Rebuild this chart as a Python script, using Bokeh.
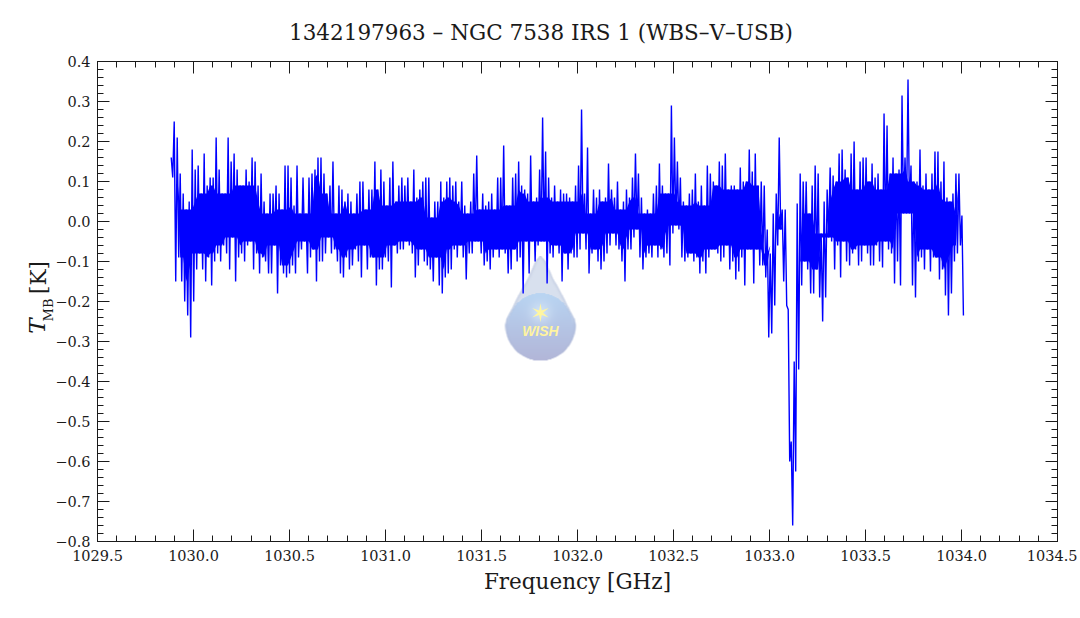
import numpy as np
from bokeh.embed import file_html
from bokeh.models import CustomJSTickFormatter, Label, LinearAxis, Range1d, SingleIntervalTicker
from bokeh.plotting import figure
from bokeh.resources import INLINE

TITLE = "1342197963 – NGC 7538 IRS 1 (WBS–V–USB)"
FREQ_FIRST = 1029.884
FREQ_LAST = 1034.01

# Upper and lower excursion of the spectrum (K)
t_mb_upper = [
 .16,.25,.21,.12,.07,.03,.05,.18,.13,.14,.07,.17,.09,.11,.11,.21,.13,.07,.07,.21,
 .15,.17,.13,.09,.09,.13,.10,.16,.15,.09,.12,.05,.02,.07,.07,.09,.07,.03,.14,.14,
 .11,.04,.14,.02,.11,.02,.11,.12,.13,.16,.16,.12,.07,.09,.15,.02,.09,.08,.05,.07,
 .05,.02,.07,.10,.10,.03,.08,.08,.15,.08,.13,.10,.04,.11,.15,.05,.09,.11,.09,.11,
 .05,.13,.06,.08,.10,.11,.11,.01,.05,.05,
 .10,.06,.10,.11,.09,.10,.05,.10,.04,.02,.05,.12,.165,.03,.07,.04,.05,.07,.03,.11,
 .11,.19,.04,.04,.11,.12,.15,.09,.08,.07,.165,.05,.06,.13,.26,.175,.11,.06,.09,.05,
 .08,.07,.07,.06,.05,.09,.14,.28,.07,.185,.02,.08,.06,.08,.05,.06,.145,.08,.06,.10,
 .03,.05,.08,.06,.11,.17,.12,.06,.02,.03,.02,.07,.09,.145,.09,.07,.07,.29,.21,.15,
 .11,.05,.04,.07,.08,.12,.05,.09,.04,.14,.12,.10,.09,.15,
 .14,.17,.08,.09,.09,.08,.135,.10,.10,.18,.125,.17,.09,.10,.09,-.02,-.08,.02,.07,.21,
 .03,.03,-.22,-.55,-.35,.045,.12,.10,.10,.02,.09,.14,.12,-.03,.05,.08,.135,.115,.10,.17,
 .18,.13,.11,.17,.20,.08,.15,.16,.16,.10,.145,.11,.12,.08,.27,.24,.12,.16,.12,.13,
 .315,.16,.355,.14,.10,.10,.18,.09,.12,.08,.12,.175,.175,.10,.15,.06,.05,.07,.12,.12,.015,
]
t_mb_lower = [
 .11,-.15,-.09,-.15,-.20,-.235,-.29,-.20,-.12,-.08,-.12,-.15,-.09,-.16,-.10,-.08,-.10,-.06,-.08,-.12,
 -.04,-.15,-.09,-.08,-.10,-.06,-.05,-.12,-.08,-.13,-.09,-.10,-.13,-.13,-.06,-.18,-.11,-.13,-.14,-.13,
 -.11,-.13,-.09,-.07,-.05,-.13,-.09,-.07,-.15,-.10,-.10,-.08,-.04,-.08,-.07,-.10,-.13,-.14,-.09,-.12,
 -.11,-.07,-.10,-.14,-.06,-.12,-.09,-.09,-.16,-.12,-.12,-.09,-.10,-.165,-.06,-.08,-.07,-.07,-.05,-.06,
 -.08,-.14,-.11,-.07,-.10,-.11,-.12,-.15,-.09,-.16,
 -.18,-.14,-.13,-.12,-.07,-.09,-.06,-.09,-.145,-.08,-.08,-.05,-.05,-.08,-.11,-.10,-.12,-.09,-.07,-.09,
 -.07,-.08,-.13,-.12,-.07,-.10,-.09,-.18,-.05,-.13,-.05,-.10,-.06,-.05,-.05,-.155,-.08,-.09,-.06,-.08,
 -.15,-.08,-.12,-.08,-.09,-.09,-.07,-.03,-.07,-.13,-.08,-.07,-.10,-.12,-.10,-.08,-.06,-.03,-.06,-.07,
 -.10,-.15,-.07,-.07,-.04,-.02,-.09,-.12,-.09,-.08,-.09,-.06,-.09,-.07,-.09,-.08,-.11,-.03,-.01,-.02,
 -.09,-.10,-.09,-.08,-.10,-.09,-.13,-.10,-.13,-.09,-.07,-.07,-.08,-.10,
 -.09,-.06,-.12,-.10,-.145,-.125,-.09,-.16,-.07,-.07,-.155,-.07,-.11,-.11,-.14,-.29,-.28,-.21,-.06,-.02,
 -.15,-.21,-.60,-.76,-.625,-.37,-.16,-.10,-.12,-.18,-.18,-.12,-.19,-.25,-.19,-.04,-.05,-.12,-.06,-.14,
 -.05,-.10,-.11,-.08,-.07,-.11,-.10,-.06,-.08,-.11,-.11,-.06,-.10,-.115,-.05,-.07,-.08,-.155,-.10,-.16,
 .02,.02,.02,-.16,-.19,-.10,-.09,-.12,-.07,-.125,-.09,-.09,-.145,-.12,-.185,-.235,-.18,-.10,-.08,-.06,-.235,
]

t_mb = np.column_stack([t_mb_upper, t_mb_lower]).ravel()
freq = np.linspace(FREQ_FIRST, FREQ_LAST, t_mb.size)

# The solid band of the trace: what all neighbouring columns reach
hi = np.array(t_mb_upper)
lo = np.array(t_mb_lower)
band_top = np.min([np.roll(hi, k) for k in (-2, -1, 0, 1, 2)], axis=0)
band_bot = np.max([np.roll(lo, k) for k in (-2, -1, 0, 1, 2)], axis=0)
band_top = np.maximum(band_top, band_bot)
band_f = freq[::2]

p = figure(
    frame_width=960, frame_height=480,
    min_border_left=97, min_border_top=61, min_border_right=20, min_border_bottom=60,
    x_range=Range1d(1029.5, 1034.5), y_range=Range1d(-0.8, 0.4),
    x_axis_type=None, y_axis_type=None,
    toolbar_location=None, output_backend="svg", background_fill_color="white",
)
p.grid.visible = False
p.outline_line_color = None

fmt = CustomJSTickFormatter(code="return Math.abs(tick) < 1e-9 ? '0.0' : tick.toFixed(1).replace('-', '\u2212');")
INK = "#1a1a1a"


def make_axis(ticker_interval, labelled):
    ax = LinearAxis(
        ticker=SingleIntervalTicker(interval=ticker_interval, num_minor_ticks=5),
        formatter=fmt,
        major_tick_in=12, major_tick_out=0, minor_tick_in=6, minor_tick_out=0,
        major_tick_line_color=INK, minor_tick_line_color=INK, axis_line_color=INK,
        major_tick_line_width=1, minor_tick_line_width=1, axis_line_width=1,
        major_label_text_font="DejaVu Serif", major_label_text_font_size="14.5px",
        major_label_text_color=INK, major_label_text_font_style="normal",
    )
    if not labelled:
        ax.major_label_text_color = None
        ax.major_label_text_font_size = "1px"
        ax.major_label_standoff = 0
    return ax


bottom = make_axis(0.5, True)
bottom.major_label_standoff = 8
p.add_layout(bottom, "below")
left = make_axis(0.1, True)
left.major_label_standoff = 7
p.add_layout(left, "left")
p.add_layout(make_axis(0.5, False), "above")
p.add_layout(make_axis(0.1, False), "right")

# Page pixels to data units, for the decoration and the free-standing texts
PX_X = 191.9
PX_Y = 400.0


def fx(px):
    return 1029.5 + (px - 97.3) / PX_X


def fy(py):
    return (221.5 - py) / PX_Y


# WISH drop logo, painted under the spectrum
W, H = 216, 324
logo_x0, logo_x1 = fx(502), fx(578)
logo_y0, logo_y1 = fy(361.5), fy(256)
px_w = (logo_x1 - logo_x0) * PX_X
px_h = (logo_y1 - logo_y0) * PX_Y
xx = (np.arange(W) + 0.5) / W * px_w - px_w / 2
yy = (np.arange(H)[::-1] + 0.5) / H * px_h          # distance below the top in pixels
XX, YY = np.meshgrid(xx, yy)
hw = np.where(
    YY < 69,
    np.interp(YY, [0, 3, 6, 22, 39, 56, 63, 69], [1, 3.5, 6, 13, 22.5, 31, 34.8, 36]),
    np.sqrt(np.maximum(36.0 ** 2 - (YY - 69) ** 2, 0)),
)
inside = np.abs(XX) <= hw
edge = np.maximum(hw - np.abs(XX), 0)
t = np.clip((YY - 38) / 67, 0, 1)[..., None]
blue = (1 - t) * np.array([184, 212, 242]) + t * np.array([178, 182, 216])
t2 = np.clip((YY - 45) / 24, 0, 1)[..., None]
light = (1 - t2) * np.array([216, 224, 238]) + t2 * blue
dc = np.hypot(XX, YY - 69)
rgb = np.where((dc < 31.5)[..., None], blue, light)
rim = np.clip(1 - edge / 4, 0, 1)[..., None] * 0.5
rgb = rgb * (1 - rim) + np.array([176, 186, 214]) * rim
glow = np.exp(-(np.hypot(XX, YY - 57) / 11) ** 2)[..., None] * 0.6
rgb = rgb * (1 - glow) + np.array([225, 240, 252]) * glow
img = np.zeros((H, W), dtype=np.uint32)
view = img.view(dtype=np.uint8).reshape((H, W, 4))
view[..., :3] = np.clip(rgb, 0, 255).astype(np.uint8)
view[..., 3] = (inside * np.clip(edge / 1.4, 0, 1) * 255).astype(np.uint8)
p.image_rgba(image=[img], x=logo_x0, y=logo_y0, dw=logo_x1 - logo_x0, dh=logo_y1 - logo_y0)

angles = np.arange(12) * np.pi / 6 + np.pi / 2
radii = np.where(np.arange(12) % 2 == 0, 9.5, 2.6)
star_px, star_py = 540.0, 312.7
p.patch(fx(star_px) + radii * np.cos(angles) / PX_X, fy(star_py) + radii * np.sin(angles) / PX_Y,
        fill_color="#fff6a0", line_color=None)
p.add_layout(Label(x=fx(540), y=fy(331), text="WISH", text_font="Liberation Sans",
                   text_font_style="bold italic", text_font_size="14px", text_color="#fff4a0",
                   text_align="center", text_baseline="middle"))

p.varea(band_f, band_top, band_bot, fill_color="#0000ff")
p.line(freq, t_mb, line_color="#0000ff", line_width=1.4, line_join="bevel")


def add_text(text, px, py, size, style="normal", angle=0.0, side="above"):
    p.add_layout(Label(x=fx(px), y=fy(py), text=text, text_font="DejaVu Serif", text_font_size=size,
                       text_font_style=style, text_color=INK, text_align="center",
                       text_baseline="middle", angle=angle), side)


add_text(TITLE, 540.5, 32, "21.5px")
add_text("Frequency [GHz]", 577, 581, "21.5px", side="below")
add_text("T", 37, 326, "23px", "italic", np.pi / 2, side="left")
add_text("MB", 48, 310, "13px", "normal", np.pi / 2, side="left")
add_text("[K]", 38, 277.5, "21.5px", "normal", np.pi / 2, side="above")

open("out.html", "w").write(file_html(p, INLINE))
